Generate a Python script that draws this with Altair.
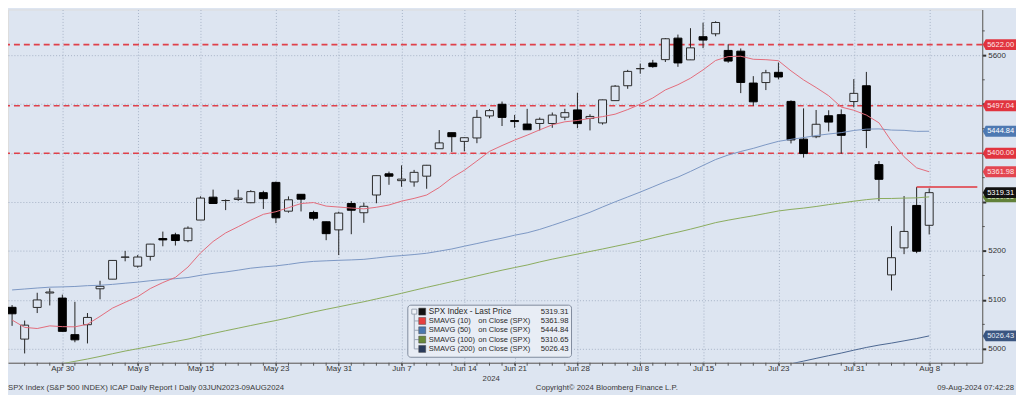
import altair as alt
import pandas as pd

BG = "#dde5f1"
FONT = "Liberation Sans"
GRID = "#a7b3c6"

# ---------------- data (SPX daily, Apr 24 - Aug 8 2024) ----------------
day_labels = ["Apr 24", "Apr 25", "Apr 26", "Apr 29", "Apr 30",
              "May 1", "May 2", "May 3", "May 6", "May 7", "May 8", "May 9", "May 10",
              "May 13", "May 14", "May 15", "May 16", "May 17", "May 20", "May 21",
              "May 22", "May 23", "May 24", "May 28", "May 29", "May 30", "May 31",
              "Jun 3", "Jun 4", "Jun 5", "Jun 6", "Jun 7", "Jun 10", "Jun 11", "Jun 12",
              "Jun 13", "Jun 14", "Jun 17", "Jun 18", "Jun 20", "Jun 21", "Jun 24",
              "Jun 25", "Jun 26", "Jun 27", "Jun 28", "Jul 1", "Jul 2", "Jul 3", "Jul 5",
              "Jul 8", "Jul 9", "Jul 10", "Jul 11", "Jul 12", "Jul 15", "Jul 16", "Jul 17",
              "Jul 18", "Jul 19", "Jul 22", "Jul 23", "Jul 24", "Jul 25", "Jul 26",
              "Jul 29", "Jul 30", "Jul 31", "Aug 1", "Aug 2", "Aug 5", "Aug 6", "Aug 7", "Aug 8"]

opens = [5084.86, 5019.88, 5084.65, 5114.13,
         5103.78, 5029.03, 5049.32, 5122.78, 5142.42, 5187.20, 5168.98, 5189.03, 5225.49, 5233.08,
         5221.10, 5263.26, 5310.07, 5303.10, 5305.35, 5298.69, 5319.28, 5340.26, 5281.45, 5315.91,
         5278.73, 5259.77, 5243.21, 5297.15, 5278.24, 5314.48, 5357.80, 5343.81, 5341.22, 5353.00,
         5409.13, 5441.93, 5424.08, 5431.11, 5476.15, 5499.99, 5466.77, 5459.58, 5460.73, 5460.71,
         5473.59, 5488.48, 5471.08, 5461.84, 5507.44, 5537.91, 5572.75, 5584.24, 5591.26, 5635.21,
         5590.76, 5638.16, 5644.09, 5610.07, 5608.56, 5543.37, 5544.39, 5565.30, 5505.84, 5428.70,
         5433.67, 5476.55, 5478.73, 5505.59, 5537.84, 5376.63, 5151.14, 5206.42, 5293.13, 5252.57]
highs = [5089.48, 5057.75, 5114.62, 5123.49,
         5110.83, 5096.12, 5073.21, 5139.12, 5181.00, 5200.23, 5191.95, 5214.53, 5239.66, 5237.26,
         5250.37, 5311.76, 5325.49, 5305.45, 5325.32, 5324.32, 5323.18, 5341.88, 5311.65, 5315.91,
         5282.27, 5260.21, 5280.33, 5302.11, 5298.80, 5354.16, 5362.35, 5375.08, 5365.79, 5375.95,
         5447.25, 5441.93, 5432.39, 5488.50, 5490.38, 5505.53, 5478.31, 5490.66, 5472.88, 5483.14,
         5490.81, 5523.64, 5479.55, 5509.69, 5539.27, 5570.33, 5583.11, 5590.75, 5635.39, 5642.45,
         5655.56, 5666.94, 5669.67, 5622.49, 5614.05, 5557.50, 5570.36, 5585.34, 5508.04, 5491.59,
         5488.32, 5487.74, 5489.46, 5551.51, 5566.16, 5383.89, 5250.89, 5312.34, 5330.64, 5328.03]
lows = [5047.02, 4990.58, 5073.14, 5088.65,
        5035.31, 5013.45, 5011.05, 5101.22, 5142.42, 5178.96, 5165.86, 5180.41, 5209.68, 5211.16,
        5217.98, 5263.26, 5296.19, 5283.59, 5302.40, 5297.87, 5286.01, 5256.93, 5278.39, 5280.89,
        5262.70, 5222.10, 5191.68, 5234.32, 5257.63, 5297.64, 5335.36, 5331.33, 5331.52, 5327.25,
        5409.13, 5402.51, 5403.75, 5420.40, 5471.32, 5455.56, 5452.03, 5447.59, 5446.56, 5451.87,
        5467.54, 5451.12, 5446.53, 5458.43, 5507.42, 5531.63, 5562.51, 5574.57, 5586.44, 5576.53,
        5590.44, 5614.75, 5639.02, 5584.81, 5522.81, 5497.04, 5529.04, 5550.90, 5419.98, 5390.95,
        5430.70, 5444.44, 5398.92, 5493.75, 5410.42, 5302.03, 5119.26, 5193.56, 5195.54, 5233.85]
closes = [5071.63, 5048.42, 5099.96, 5116.17,
          5035.69, 5018.39, 5064.20, 5127.79, 5180.74, 5187.70, 5187.67, 5214.08, 5222.68, 5221.42,
          5246.68, 5308.15, 5297.10, 5303.27, 5308.13, 5321.41, 5307.01, 5267.84, 5304.72, 5306.04,
          5266.95, 5235.48, 5277.51, 5283.40, 5291.34, 5354.03, 5352.96, 5346.99, 5360.79, 5375.32,
          5421.03, 5433.74, 5431.60, 5473.23, 5487.03, 5473.17, 5464.62, 5447.87, 5469.30, 5477.90,
          5482.87, 5460.48, 5475.09, 5509.01, 5537.02, 5567.19, 5572.85, 5576.98, 5633.91, 5584.54,
          5615.35, 5631.22, 5667.20, 5588.27, 5544.59, 5505.00, 5564.41, 5555.74, 5427.13, 5399.22,
          5459.10, 5463.54, 5436.44, 5522.30, 5446.68, 5346.56, 5186.33, 5240.03, 5199.50, 5319.31]

sma10 = [5058.90, 5043.84, 5041.50, 5046.93,
         5045.36, 5044.98, 5050.28, 5066.34, 5083.35, 5095.07, 5106.67, 5123.24, 5135.51, 5146.04,
         5167.14, 5196.11, 5219.40, 5236.95, 5249.69, 5263.06, 5274.99, 5280.37, 5288.57, 5297.04,
         5299.06, 5291.80, 5289.84, 5287.85, 5286.17, 5289.43, 5294.03, 5301.94, 5307.55, 5314.48,
         5329.89, 5349.71, 5365.12, 5384.10, 5403.67, 5415.59, 5426.75, 5436.84, 5447.69, 5457.95,
         5464.13, 5466.81, 5471.16, 5474.73, 5479.73, 5489.14, 5499.96, 5512.87, 5529.33, 5539.99,
         5553.24, 5570.32, 5589.53, 5597.45, 5598.21, 5591.99, 5591.15, 5589.02, 5568.35, 5549.81,
         5534.19, 5517.42, 5494.34, 5487.75, 5477.96, 5462.11, 5424.30, 5392.73, 5369.97, 5361.98]
sma50 = [5120.40, 5122.31, 5124.30, 5126.03,
         5126.63, 5127.49, 5129.14, 5129.96, 5131.80, 5134.16, 5136.35, 5139.24, 5141.77, 5143.46,
         5145.77, 5150.36, 5154.21, 5157.13, 5160.82, 5164.89, 5167.52, 5169.57, 5172.65, 5176.43,
         5178.78, 5179.92, 5180.98, 5181.82, 5182.96, 5185.68, 5188.67, 5190.64, 5192.77, 5195.40,
         5199.70, 5204.15, 5209.84, 5215.22, 5220.91, 5226.18, 5232.26, 5237.24, 5244.16, 5252.48,
         5261.11, 5269.88, 5279.16, 5290.00, 5300.53, 5310.46, 5320.48, 5331.05, 5341.73, 5351.10,
         5362.69, 5374.95, 5387.01, 5396.22, 5403.49, 5409.84, 5417.38, 5424.21, 5428.30, 5431.85,
         5436.10, 5439.21, 5442.00, 5446.38, 5449.15, 5449.65, 5447.24, 5446.68, 5444.58, 5444.84]
sma100 = [4950.8, 4955.5, 4960.3, 4965.0,
          4969.70, 4974.39, 4979.18, 4984.42, 4990.01, 4995.46, 5000.27, 5005.21, 5010.25, 5015.05,
          5019.84, 5025.94, 5031.45, 5036.94, 5042.27, 5047.67, 5052.93, 5057.91, 5063.54, 5069.56,
          5075.35, 5080.73, 5085.88, 5091.15, 5096.23, 5101.97, 5107.66, 5113.48, 5119.70, 5125.65,
          5131.45, 5137.29, 5142.97, 5149.02, 5154.95, 5160.77, 5166.14, 5171.38, 5177.62, 5183.34,
          5188.59, 5193.77, 5198.98, 5204.12, 5209.51, 5214.92, 5220.43, 5226.67, 5233.00, 5238.55,
          5244.65, 5251.20, 5258.05, 5263.05, 5267.65, 5272.00, 5276.90, 5281.80, 5285.10, 5287.70,
          5291.00, 5294.85, 5298.15, 5301.80, 5305.00, 5307.30, 5307.40, 5308.15, 5308.65, 5310.65]
sma200_days = ["Jul 22", "Jul 23", "Jul 24", "Jul 25", "Jul 26", "Jul 29", "Jul 30", "Jul 31",
               "Aug 1", "Aug 2", "Aug 5", "Aug 6", "Aug 7", "Aug 8"]
sma200 = [4957.11, 4963.58, 4969.43, 4974.89, 4980.51, 4986.04, 4991.34, 4997.20,
          5002.79, 5007.66, 5011.72, 5016.35, 5020.96, 5026.43]

axis_days = ["Apr 30", "May 8", "May 15", "May 23", "May 31", "Jun 7", "Jun 14",
             "Jun 21", "Jun 28", "Jul 8", "Jul 15", "Jul 23", "Jul 31", "Aug 8"]
y_ticks = [5000, 5100, 5200, 5300, 5400, 5500, 5600, 5700]
y_hidden_labels = [5300, 5400, 5500]  # covered by the value tags in the reference
y_minor = [5050, 5150, 5250, 5350, 5450, 5550, 5650]

dashed_levels = [5622.00, 5497.04, 5400.00]
last_level = 5330.64

badge_vals = [5622.00, 5497.04, 5444.84, 5400.00, 5361.98, 5310.65, 5319.31, 5026.43]
badge_bg = ["#e1343f", "#e1343f", "#4e79b2", "#e1343f", "#e34651", "#62813a", "#111111", "#3a5580"]
badge_fg = ["#ffe6e6", "#ffe6e6", "#ffffff", "#ffe6e6", "#ffe6e6", "#dfe9cf", "#ffffff", "#e6ecf5"]

legend_names = ["SPX Index - Last Price", "SMAVG (10)", "SMAVG (50)", "SMAVG (100)", "SMAVG (200)"]
legend_subs = ["", "on Close (SPX)", "on Close (SPX)", "on Close (SPX)", "on Close (SPX)"]
legend_vals = ["5319.31", "5361.98", "5444.84", "5310.65", "5026.43"]
legend_colors = ["#111111", "#e8403f", "#4a78b0", "#6a8a3a", "#2b3c5c"]

footer_left = "SPX Index (S&P 500 INDEX) ICAP Daily Report I  Daily 03JUN2023-09AUG2024"
footer_mid = "Copyright\u00a9 2024 Bloomberg Finance L.P."
footer_right = "09-Aug-2024 07:42:28"
year_label = "2024"

# ---------------- layout ----------------
W, H = 982, 356
XMIN, XMAX = -3.93, 72.83
YMIN, YMAX = 4971.6, 5693.7
OFF = 4  # first listed day sits at index -4 (Apr 30 = 0)

idx = [i - OFF for i in range(len(day_labels))]
df = pd.DataFrame({"i": idx, "day": day_labels, "open": opens, "high": highs, "low": lows,
                   "close": closes, "sma10": sma10, "sma50": sma50, "sma100": sma100})
df200 = pd.DataFrame({"i": [day_labels.index(d) - OFF for d in sma200_days], "sma200": sma200})

label_idx = [day_labels.index(d) - OFF for d in axis_days]
expr = " : ".join(f"datum.value == {i} ? '{n}'" for i, n in zip(label_idx, axis_days)) + " : ''"
yexpr = " || ".join(f"datum.value == {v}" for v in y_hidden_labels) + " ? '' : datum.label"

xs = alt.Scale(domain=[XMIN, XMAX], nice=False, zero=False)
ys = alt.Scale(domain=[YMIN, YMAX], nice=False, zero=False)

x_axis = alt.Axis(values=label_idx, labelExpr=expr, grid=True, gridColor=GRID, gridDash=[1, 2],
                  gridWidth=1, domainColor="#555555", tickColor="#555555", tickSize=3,
                  labelFontSize=8, labelColor="#333333", labelPadding=3, labelBaseline="middle",
                  labelFont=FONT, title=None, labelFlush=False, labelOverlap=False)
y_axis = alt.Axis(orient="right", values=y_ticks, grid=True, gridColor=GRID, gridDash=[1, 2],
                  gridWidth=1, domainColor="#555555", tickColor="#333333", tickSize=3.5,
                  tickWidth=2, labelFontSize=8, labelColor="#333333", labelPadding=2,
                  labelFont=FONT, title=None, format="d", labelExpr=yexpr,
                  labelFlush=False, labelOverlap=False)


def X(f):
    return alt.X(f"{f}:Q", scale=xs, axis=x_axis)


def Y(f):
    return alt.Y(f"{f}:Q", scale=ys, axis=y_axis)


layers = []

# red dashed levels
layers.append(alt.Chart(pd.DataFrame({"level": dashed_levels})).mark_rule(
    color="#e0404a", strokeWidth=1.6, strokeDash=[6, 4]).encode(y=Y("level")))

# candles
layers.append(alt.Chart(df).mark_rule(color="#222222", strokeWidth=1, clip=True).encode(
    x=X("i"), y=Y("low"), y2="high:Q"))
down = "datum.close < datum.open"
layers.append(alt.Chart(df).mark_bar(size=8, strokeWidth=1, clip=True).encode(
    x=X("i"), y=Y("open"), y2="close:Q",
    fill=alt.condition(down, alt.value("#000000"), alt.value(BG)),
    stroke=alt.condition(down, alt.value("#000000"), alt.value("#2a2a2a"))))

# moving averages
for col, colr in [("sma100", "#8aab5c"), ("sma50", "#7b97c3"), ("sma10", "#e36b7a")]:
    layers.append(alt.Chart(df).mark_line(color=colr, strokeWidth=1, clip=True).encode(
        x=X("i"), y=Y(col)))
layers.append(alt.Chart(df200).mark_line(color="#4a6590", strokeWidth=1, clip=True).encode(
    x=X("i"), y=Y("sma200")))

# last-price red line
layers.append(alt.Chart(pd.DataFrame({"x0": [day_labels.index("Aug 7") - OFF], "x1": [XMAX],
                                      "lv": [last_level]})).mark_rule(
    color="#e0343c", strokeWidth=1.5).encode(x=X("x0"), x2="x1:Q", y=Y("lv")))

# daily ticks on x axis
tick_df = pd.DataFrame({"i": list(range(-3, 73))})
layers.append(alt.Chart(tick_df).mark_rule(color="#555555", strokeWidth=1).encode(
    x=X("i"), y=alt.value(H), y2=alt.value(H + 3)))

# minor ticks on y axis
layers.append(alt.Chart(pd.DataFrame({"m": y_minor})).mark_rule(color="#555555").encode(
    y=Y("m"), x=alt.value(W), x2=alt.value(W + 2.5)))

# right-hand value badges
TAG = "M0,0L0.55,-1L6.3,-1L6.3,1L0.55,1Z"
for v, bg, fg in zip(badge_vals, badge_bg, badge_fg):
    bd = pd.DataFrame({"v": [v], "t": [f"{v:.2f}"]})
    layers.append(alt.Chart(bd).mark_point(shape=TAG, size=121, filled=True, opacity=1,
                                           color=bg).encode(x=alt.value(W + 0.5), y=Y("v")))
    layers.append(alt.Chart(bd).mark_text(align="left", baseline="middle", fontSize=7.5,
                                          font=FONT, color=fg).encode(
        x=alt.value(W + 5), y=Y("v"), text="t:N"))

# legend box
one = pd.DataFrame({"k": [0]})
layers.append(alt.Chart(one).mark_rect(fill="#e8edf5", stroke="#7f8b9d", strokeWidth=1,
                                       cornerRadius=3).encode(
    x=alt.value(403), x2=alt.value(568), y=alt.value(298), y2=alt.value(350.5)))
row_y = [304.5 + r * 9.4 for r in range(len(legend_names))]
layers.append(alt.Chart(one).mark_rule(color="#9aa4b4").encode(
    x=alt.value(409.5), y=alt.value(307), y2=alt.value(row_y[-1])))
layers.append(alt.Chart(one).mark_rect(fill="#f0f3f8", stroke="#8a94a4", strokeWidth=0.8).encode(
    x=alt.value(407), x2=alt.value(412), y=alt.value(302), y2=alt.value(307)))
for r, (nm, sb, vl, cl) in enumerate(zip(legend_names, legend_subs, legend_vals, legend_colors)):
    yy = row_y[r]
    ld = pd.DataFrame({"nm": [nm], "sb": [sb], "vl": [vl]})
    if r > 0:
        layers.append(alt.Chart(one).mark_rule(color="#9aa4b4").encode(
            x=alt.value(409.5), x2=alt.value(414), y=alt.value(yy)))
    layers.append(alt.Chart(one).mark_rect(fill=cl, stroke="#444444", strokeWidth=0.5).encode(
        x=alt.value(414), x2=alt.value(421), y=alt.value(yy - 3.5), y2=alt.value(yy + 3.5)))
    layers.append(alt.Chart(ld).mark_text(align="left", baseline="middle",
                                          fontSize=8.3 if r == 0 else 7.6,
                                          font=FONT, color="#2a2a2a").encode(
        x=alt.value(424), y=alt.value(yy), text="nm:N"))
    if sb:
        layers.append(alt.Chart(ld).mark_text(align="left", baseline="middle", fontSize=7.6,
                                              font=FONT, color="#2a2a2a").encode(
            x=alt.value(474), y=alt.value(yy), text="sb:N"))
    layers.append(alt.Chart(ld).mark_text(align="right", baseline="middle", fontSize=7.8,
                                          font=FONT, color="#2a2a2a").encode(
        x=alt.value(565), y=alt.value(yy), text="vl:N"))

# footer / year
for txt, xx, yy, al in [(year_label, 487, 372, "center"), (footer_left, 0, 381.5, "left"),
                        (footer_mid, 532, 381.5, "left"), (footer_right, 1014, 381.5, "right")]:
    layers.append(alt.Chart(pd.DataFrame({"t": [txt]})).mark_text(
        align=al, baseline="middle", fontSize=7.8, font=FONT, color="#3a3a3a").encode(
        x=alt.value(xx), y=alt.value(yy), text="t:N"))

chart = alt.layer(*layers).properties(
    width=W, height=H,
    padding={"left": 0, "top": 0, "right": 34, "bottom": 31},
    autosize=alt.AutoSizeParams(type="none"),
    background=BG,
).configure_view(stroke=None).configure(font=FONT)

chart.save("out.html", embed_options={"renderer": "svg", "actions": False})
